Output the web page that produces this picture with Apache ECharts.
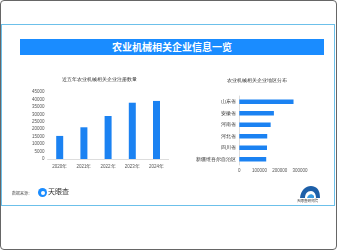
<!DOCTYPE html>
<html>
<head>
<meta charset="utf-8">
<script src="https://cdn.jsdelivr.net/npm/echarts@6/dist/echarts.min.js"></script>
<style>
  html, body { margin: 0; padding: 0; width: 337px; height: 250px; background: #fff; overflow: hidden; font-family: "Noto Sans CJK SC", sans-serif; }
  .frame { position: absolute; left: 0; top: 0; width: 335px; height: 248px; border: 1px solid #666; border-radius: 4px; }
  .card { position: absolute; left: 1px; top: 24px; width: 332px; height: 180px; border: 1px solid #6cc0ea; }
  .title-bar { position: absolute; left: 20px; top: 39px; width: 304px; height: 16px; background: #1a8cff; color: #fff; font-size: 10px; font-weight: bold; line-height: 16px; text-align: center; }
  #chart { position: absolute; left: 0; top: 0; width: 337px; height: 250px; }
  .source { position: absolute; left: 12px; top: 190px; font-size: 4px; color: #555; }
  .logo-l { position: absolute; left: 38px; top: 188px; width: 9px; height: 9px; border-radius: 50%; background: #1a8cff; }
  .logo-l::after { content: ""; position: absolute; left: 3px; top: 2.5px; width: 4px; height: 4px; border-radius: 50%; background: #fff; }
  .logo-l-text { position: absolute; left: 48px; top: 186px; font-size: 7px; color: #333; line-height: 10px; }
  .logo-r-text { position: absolute; left: 297px; top: 198px; font-size: 3.5px; color: #333; }
</style>
</head>
<body>
<div class="frame"></div>
<div class="card"></div>
<div class="title-bar">农业机械相关企业信息一览</div>
<div id="chart"></div>
<div class="source">数据来源：</div>
<div class="logo-l"></div>
<div class="logo-l-text">天眼查</div>
<svg style="position:absolute;left:299px;top:184px" width="22" height="14" viewBox="0 0 22 14">
  <path d="M1 14 C2 4 10 0 16 3 C20 5 21 9 21 14 L17 14 C17 10 15 7 12 7 C8 7 6 10 6 14 Z" fill="#1d5fa8"/>
  <path d="M8 14 C9 10 13 9 15 12 L15 14 Z" fill="#3a9be0"/>
</svg>
<div class="logo-r-text">天眼查研究院</div>
<script>
const years = ['2020年', '2021年', '2022年', '2023年', '2024年']
const yearCounts = [15500, 21300, 28900, 37800, 39000]
const provinces = ['山东省', '安徽省', '河南省', '河北省', '四川省', '新疆维吾尔自治区']
const provinceCounts = [268000, 171000, 155000, 138000, 137000, 133000]

const chart = echarts.init(document.getElementById('chart'))

// 刻度不加千分位
const plain = (v) => String(v)
const labelStyle = { color: '#555', fontSize: 4.5, formatter: plain, showMaxLabel: true, showMinLabel: true, hideOverlap: false }
const lightLine = { lineStyle: { color: '#ddd' } }

const option = {
  animation: false,
  title: [
    {
      text: '近五年农业机械相关企业注册数量',
      left: 94.5,
      top: 72,
      textAlign: 'center',
      textStyle: { fontSize: 5, color: '#333', fontWeight: 'normal' }
    },
    {
      text: '农业机械相关企业地区分布',
      left: 251.5,
      top: 73,
      textAlign: 'center',
      textStyle: { fontSize: 5, color: '#333', fontWeight: 'normal' }
    }
  ],
  grid: [
    { left: 47.6, top: 92, width: 121, height: 67 },
    { left: 239.3, top: 96, width: 60.7, height: 69 }
  ],
  xAxis: [
    {
      gridIndex: 0,
      type: 'category',
      data: years,
      axisLine: lightLine,
      axisTick: { show: false },
      axisLabel: { color: '#555', fontSize: 4.5, margin: 5 }
    },
    {
      gridIndex: 1,
      type: 'value',
      min: 0,
      max: 300000,
      interval: 100000,
      axisLine: { show: false },
      axisTick: { show: false },
      splitLine: { show: false },
      axisLabel: { ...labelStyle, margin: 3 }
    }
  ],
  yAxis: [
    {
      gridIndex: 0,
      type: 'value',
      min: 0,
      max: 45000,
      interval: 5000,
      axisLine: { show: false },
      axisTick: { show: false },
      splitLine: { show: false },
      axisLabel: { ...labelStyle, margin: 3 }
    },
    {
      gridIndex: 1,
      type: 'category',
      data: provinces,
      inverse: true,
      axisLine: { show: true, lineStyle: { color: '#ddd' } },
      axisTick: { show: false },
      axisLabel: { color: '#333', fontSize: 5, margin: 3 }
    }
  ],
  series: [
    {
      type: 'bar',
      xAxisIndex: 0,
      yAxisIndex: 0,
      data: yearCounts,
      barWidth: 7,
      itemStyle: { color: '#1b82f2' }
    },
    {
      type: 'bar',
      xAxisIndex: 1,
      yAxisIndex: 1,
      data: provinceCounts,
      barWidth: 4.5,
      itemStyle: { color: '#1b82f2' }
    }
  ]
}

chart.setOption(option)
</script>
</body>
</html>
